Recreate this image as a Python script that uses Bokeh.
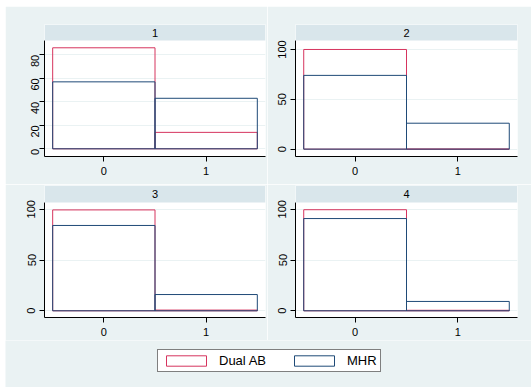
import math
from bokeh.plotting import figure
from bokeh.layouts import row, column
from bokeh.models import (Range1d, FixedTicker, Label, Legend, LegendItem,
                          BoxAnnotation, ColumnDataSource, Spacer)
from bokeh.embed import file_html
from bokeh.resources import INLINE

# ---- data ----
panels = ["1", "2", "3", "4"]
categories = [0, 1]
dual_ab = [[86.0, 14.0], [100.0, 0.0], [99.3, 0.7], [99.5, 0.5]]
mhr = [[57.0, 43.0], [74.0, 26.0], [84.0, 16.0], [90.8, 9.2]]
y_ticks = [[0, 20, 40, 60, 80], [0, 50, 100], [0, 50, 100], [0, 50, 100]]
series_names = ["Dual AB", "MHR"]

# ---- style ----
BG = "#EAF2F3"
STRIP = "#D9E6EB"
RED = "#D6345E"
NAVY = "#1F4A77"
FONT = "Liberation Sans"

# data-area y limits per panel (Stata-like padding)
y_lims = [(-6.55, 92.2), (-7.4, 109.0), (-6.6, 106.6), (-6.6, 106.6)]
X_LIM = (-0.58, 1.58)


def make_panel(i, ml, fw, mr, mt, strip_px, area_px, mb, ylab_orient="parallel"):
    ylo, yhi = y_lims[i]
    top = yhi + strip_px * (yhi - ylo) / area_px
    p = figure(width=ml + fw + mr, height=mt + strip_px + area_px + mb,
               x_range=Range1d(*X_LIM), y_range=Range1d(ylo, top),
               output_backend="svg", toolbar_location=None,
               min_border_left=ml, min_border_right=mr,
               min_border_top=mt, min_border_bottom=mb,
               background_fill_color="white", border_fill_color=BG,
               outline_line_color=None)
    left = [c - 0.5 for c in categories]
    right = [c + 0.5 for c in categories]
    src_d = ColumnDataSource(dict(left=left, right=right, top=dual_ab[i], bottom=[0, 0]))
    src_m = ColumnDataSource(dict(left=left, right=right, top=mhr[i], bottom=[0, 0]))
    p.quad(left="left", right="right", top="top", bottom="bottom", source=src_d,
           fill_alpha=0, line_color=RED, line_width=1)
    p.quad(left="left", right="right", top="top", bottom="bottom", source=src_m,
           fill_alpha=0, line_color=NAVY, line_width=1)

    p.xaxis.ticker = FixedTicker(ticks=categories)
    p.yaxis.ticker = FixedTicker(ticks=y_ticks[i])
    p.yaxis.bounds = (ylo, yhi)
    for ax in p.axis:
        ax.axis_line_color = "black"
        ax.major_tick_line_color = "black"
        ax.major_tick_out = 5
        ax.major_tick_in = 0
        ax.minor_tick_line_color = None
        ax.major_label_text_font = FONT
        ax.major_label_text_font_size = "11px"
        ax.major_label_text_color = "black"
    p.yaxis.major_label_orientation = ylab_orient
    p.yaxis.major_label_standoff = 4
    p.xaxis.major_label_standoff = 5
    p.xgrid.visible = False
    p.ygrid.grid_line_color = BG
    p.ygrid.grid_line_width = 1

    p.add_layout(BoxAnnotation(bottom=yhi, fill_color=STRIP, fill_alpha=1,
                               line_color=None))
    strip_mid = yhi + (strip_px / 2) * (yhi - ylo) / area_px
    p.add_layout(Label(x=0.5, y=strip_mid, text=panels[i], text_align="center",
                       text_baseline="middle", text_font=FONT,
                       text_font_size="11px", text_color="black"))
    return p


p1 = make_panel(0, 39, 221, 2, 18, 16, 116, 28, ylab_orient=math.pi / 2)
p2 = make_panel(1, 28, 222, 14, 18, 16, 116, 28)
p3 = make_panel(2, 39, 221, 2, 1, 17, 115, 23)
p4 = make_panel(3, 28, 222, 14, 1, 17, 115, 23)

lf = figure(width=526, height=47, x_range=Range1d(0, 1), y_range=Range1d(0, 1),
            output_backend="svg", toolbar_location=None,
            x_axis_location=None, y_axis_location=None,
            min_border=0, min_border_left=0, min_border_right=0,
            min_border_top=0, min_border_bottom=0,
            background_fill_color=BG, border_fill_color=BG,
            outline_line_color=None)
for g in lf.grid:
    g.visible = False
# placeholder glyphs (outside the visible range) that only feed the legend swatches
r1 = lf.quad(left=[5], right=[6], top=[5], bottom=[4], fill_color="white",
             line_color=RED, line_width=1)
r2 = lf.quad(left=[5], right=[6], top=[5], bottom=[4], fill_color="white",
             line_color=NAVY, line_width=1)
legend = Legend(items=[LegendItem(label=series_names[0], renderers=[r1]),
                       LegendItem(label=series_names[1], renderers=[r2])],
                orientation="horizontal", location=(152, 15),
                glyph_width=50, glyph_height=13, label_height=13,
                label_standoff=8, spacing=23, padding=3, margin=0,
                border_line_color="black", border_line_width=1,
                background_fill_color="white", background_fill_alpha=1,
                label_text_font=FONT, label_text_font_size="13px",
                label_text_color="black")
lf.add_layout(legend, "center")

content = column(row(p1, p2, spacing=0), row(p3, p4, spacing=0), lf, spacing=0)
layout = column(Spacer(height=6), row(Spacer(width=5), content, spacing=0), spacing=0)

open("out.html", "w").write(file_html(layout, INLINE))
